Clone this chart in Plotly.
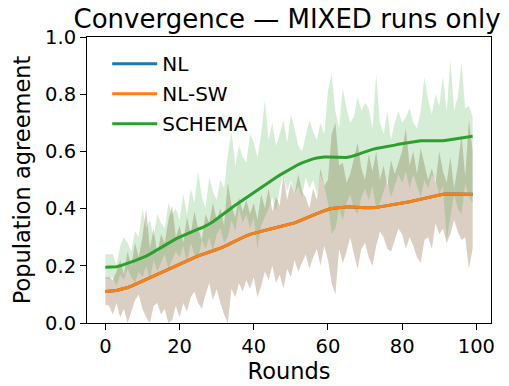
import plotly.graph_objects as go

rounds = list(range(100))

schema_mean = [
    0.195, 0.195, 0.196, 0.197, 0.200, 0.204, 0.208, 0.213, 0.218, 0.223,
    0.228, 0.234, 0.241, 0.249, 0.257, 0.265, 0.273, 0.281, 0.288, 0.294,
    0.300, 0.306, 0.312, 0.318, 0.323, 0.328, 0.333, 0.339, 0.346, 0.354,
    0.363, 0.372, 0.382, 0.392, 0.402, 0.412, 0.421, 0.430, 0.439, 0.448,
    0.457, 0.466, 0.475, 0.484, 0.493, 0.501, 0.509, 0.517, 0.525, 0.533,
    0.540, 0.547, 0.554, 0.560, 0.565, 0.570, 0.574, 0.577, 0.579, 0.580,
    0.580, 0.580, 0.579, 0.578, 0.578, 0.579, 0.581, 0.584, 0.589, 0.594,
    0.599, 0.604, 0.607, 0.610, 0.612, 0.614, 0.616, 0.619, 0.622, 0.625,
    0.627, 0.630, 0.633, 0.635, 0.636, 0.637, 0.637, 0.637, 0.636, 0.636,
    0.636, 0.637, 0.639, 0.641, 0.643, 0.645, 0.647, 0.649, 0.651, 0.653,
]
schema_upper = [
    0.24, 0.24, 0.24, 0.20, 0.27, 0.30, 0.28, 0.25, 0.32, 0.30,
    0.40, 0.33, 0.36, 0.30, 0.38, 0.35, 0.33, 0.42, 0.38, 0.40,
    0.36, 0.45, 0.38, 0.47, 0.42, 0.53, 0.44, 0.40, 0.51, 0.46,
    0.43, 0.50, 0.47, 0.59, 0.67, 0.55, 0.62, 0.58, 0.56, 0.66,
    0.63, 0.58, 0.66, 0.78, 0.64, 0.70, 0.62, 0.66, 0.71, 0.63,
    0.73, 0.68, 0.62, 0.60, 0.66, 0.71, 0.67, 0.64, 0.70, 0.66,
    0.81, 0.87, 0.74, 0.68, 0.82, 0.75, 0.70, 0.72, 0.79, 0.74,
    0.77, 0.75, 0.68, 0.87, 0.70, 0.66, 0.74, 0.64, 0.70, 0.74,
    0.70, 0.72, 0.75, 0.70, 0.68, 0.74, 0.86, 0.78, 0.73, 0.80,
    0.76, 0.86, 0.74, 0.92, 0.74, 0.79, 0.91, 0.75, 0.76, 0.72,
]
schema_lower = [
    0.155, 0.155, 0.16, 0.13, 0.17, 0.15, 0.19, 0.16, 0.14, 0.18,
    0.16, 0.20, 0.15, 0.22, 0.18, 0.21, 0.24, 0.19, 0.22, 0.25,
    0.23, 0.27, 0.21, 0.28, 0.24, 0.22, 0.29, 0.26, 0.30, 0.25,
    0.31, 0.33, 0.28, 0.30, 0.36, 0.32, 0.40, 0.35, 0.38, 0.33,
    0.37, 0.26, 0.34, 0.37, 0.40, 0.44, 0.39, 0.47, 0.52, 0.46,
    0.50, 0.45, 0.48, 0.44, 0.51, 0.47, 0.50, 0.45, 0.52, 0.48,
    0.42, 0.31, 0.33, 0.40, 0.36, 0.42, 0.45, 0.40, 0.38, 0.44,
    0.47, 0.43, 0.48, 0.40, 0.42, 0.46, 0.50, 0.44, 0.48, 0.52,
    0.49, 0.53, 0.47, 0.52, 0.48, 0.44, 0.50, 0.47, 0.52, 0.50,
    0.45, 0.48, 0.29, 0.37, 0.45, 0.40, 0.38, 0.49, 0.44, 0.42,
]

nl_mean = [
    0.110, 0.111, 0.112, 0.114, 0.117, 0.120, 0.124, 0.129, 0.135, 0.141,
    0.147, 0.153, 0.159, 0.165, 0.171, 0.177, 0.183, 0.189, 0.195, 0.201,
    0.207, 0.213, 0.219, 0.225, 0.230, 0.235, 0.239, 0.243, 0.247, 0.252,
    0.257, 0.262, 0.267, 0.273, 0.280, 0.287, 0.294, 0.300, 0.305, 0.310,
    0.314, 0.318, 0.321, 0.324, 0.327, 0.330, 0.333, 0.336, 0.339, 0.342,
    0.346, 0.350, 0.355, 0.360, 0.365, 0.370, 0.376, 0.382, 0.388, 0.393,
    0.397, 0.400, 0.402, 0.404, 0.405, 0.406, 0.406, 0.406, 0.405, 0.404,
    0.403, 0.403, 0.403, 0.404, 0.406, 0.408, 0.410, 0.412, 0.414, 0.416,
    0.418, 0.421, 0.424, 0.427, 0.430, 0.433, 0.436, 0.439, 0.442, 0.445,
    0.448, 0.450, 0.451, 0.451, 0.451, 0.450, 0.450, 0.450, 0.450, 0.450,
]
nlsw_mean = list(nl_mean)

nl_upper = [
    0.16, 0.16, 0.15, 0.18, 0.22, 0.17, 0.25, 0.20, 0.28, 0.23,
    0.30, 0.40, 0.26, 0.33, 0.24, 0.31, 0.28, 0.36, 0.41, 0.30,
    0.34, 0.28, 0.37, 0.31, 0.39, 0.33, 0.29, 0.38, 0.35, 0.42,
    0.36, 0.40, 0.34, 0.49, 0.41, 0.37, 0.44, 0.39, 0.43, 0.38,
    0.42, 0.36, 0.45, 0.40, 0.47, 0.39, 0.44, 0.41, 0.52, 0.43,
    0.49, 0.45, 0.52, 0.46, 0.44, 0.40, 0.47, 0.43, 0.54, 0.48,
    0.50, 0.66, 0.70, 0.55, 0.56, 0.49, 0.52, 0.57, 0.63, 0.54,
    0.50, 0.59, 0.53, 0.60, 0.50, 0.55, 0.48, 0.57, 0.52, 0.56,
    0.60, 0.68, 0.55, 0.60, 0.52, 0.61, 0.56, 0.50, 0.54, 0.49,
    0.60, 0.53, 0.49, 0.58, 0.47, 0.55, 0.66, 0.51, 0.71, 0.60,
]
nl_lower = [
    0.065, 0.06, 0.03, 0.07, 0.02, 0.05, 0.00, 0.04, 0.08, 0.10,
    0.05, 0.02, 0.00, 0.06, 0.07, 0.03, 0.05, 0.00, 0.01, 0.06,
    0.02, 0.07, 0.04, 0.09, 0.11, 0.07, 0.05, 0.10, 0.14, 0.08,
    0.12, 0.07, 0.03, 0.00, 0.12, 0.09, 0.14, 0.11, 0.15, 0.12,
    0.16, 0.09, 0.13, 0.18, 0.15, 0.20, 0.14, 0.17, 0.12, 0.19,
    0.16, 0.22, 0.18, 0.21, 0.24, 0.19, 0.23, 0.26, 0.20, 0.27,
    0.22, 0.14, 0.10, 0.26, 0.21, 0.25, 0.30, 0.24, 0.19, 0.26,
    0.28, 0.23, 0.20, 0.27, 0.32, 0.30, 0.26, 0.25, 0.29, 0.33,
    0.31, 0.26, 0.30, 0.27, 0.23, 0.21, 0.29, 0.30, 0.26, 0.35,
    0.31, 0.33, 0.28, 0.31, 0.36, 0.32, 0.29, 0.30, 0.19, 0.26,
]
nlsw_upper = list(nl_upper)
nlsw_lower = list(nl_lower)

series = [
    ("NL", nl_mean, nl_lower, nl_upper, "#1f77b4", "rgba(31,119,180,0.2)"),
    ("NL-SW", nlsw_mean, nlsw_lower, nlsw_upper, "#ff7f0e", "rgba(255,127,14,0.2)"),
    ("SCHEMA", schema_mean, schema_lower, schema_upper, "#2ca02c", "rgba(44,160,44,0.2)"),
]

fig = go.Figure()
for name, mean, lo, hi, col, fcol in series:
    fig.add_trace(go.Scatter(x=rounds, y=lo, mode="lines", line=dict(width=0),
                             showlegend=False, hoverinfo="skip"))
    fig.add_trace(go.Scatter(x=rounds, y=hi, mode="lines", line=dict(width=0),
                             fill="tonexty", fillcolor=fcol,
                             showlegend=False, hoverinfo="skip"))
for i, (name, mean, lo, hi, col, fcol) in enumerate(series):
    fig.add_trace(go.Scatter(x=rounds, y=mean, mode="lines", name=name,
                             line=dict(color=col, width=3), legendgroup=f"g{i}"))

font = "DejaVu Sans, Arial, sans-serif"
fig.update_layout(
    width=509, height=386,
    margin=dict(l=87, r=18, t=37, b=63, autoexpand=False),
    paper_bgcolor="white", plot_bgcolor="white",
    font=dict(family=font, color="black", size=19),
    title=dict(text="Convergence — MIXED runs only", x=0.564, xanchor="center",
               y=0.952, yanchor="middle", yref="container",
               font=dict(size=26, family=font, color="black")),
    legend=dict(x=0.05, y=0.975, xanchor="left", yanchor="top",
                bgcolor="rgba(0,0,0,0)", font=dict(size=20, family=font),
                tracegroupgap=1, itemwidth=45),
    showlegend=True,
)
fig.update_xaxes(range=[-4.95, 103.95], tickvals=[0, 20, 40, 60, 80, 100],
                 showline=True, mirror=True, linecolor="black", linewidth=1,
                 ticks="outside", ticklen=6, tickcolor="black", showgrid=False,
                 zeroline=False, tickfont=dict(size=19.5), automargin=False,
                 title=dict(text="Rounds", font=dict(size=22.5), standoff=1))
fig.update_yaxes(range=[0, 1], tickvals=[0, 0.2, 0.4, 0.6, 0.8, 1.0], tickformat=".1f",
                 showline=True, mirror=True, linecolor="black", linewidth=1,
                 ticks="outside", ticklen=6, tickcolor="black", showgrid=False,
                 zeroline=False, tickfont=dict(size=19.5), automargin=False,
                 title=dict(text="Population agreement", font=dict(size=22.5), standoff=8))

fig.write_html("out.html", config={"displayModeBar": False},
               post_script="document.body.style.margin='0';document.body.style.overflow='hidden';")
